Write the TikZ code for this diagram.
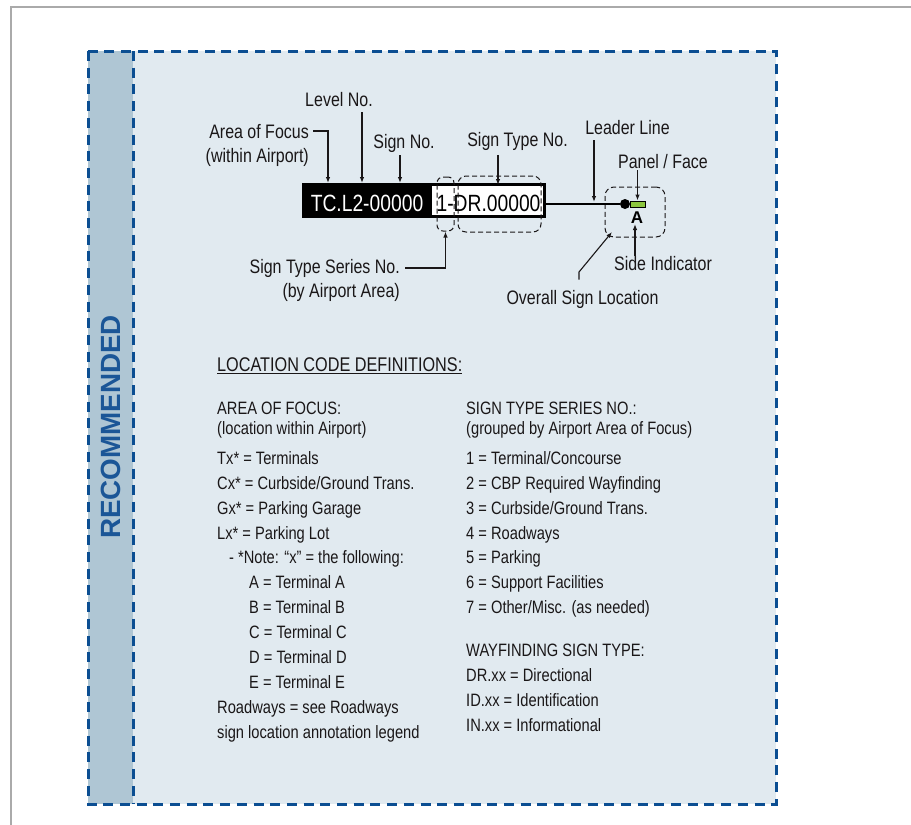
\documentclass[tikz,border=0pt]{standalone}
\usepackage{fontspec}
\setmainfont{Liberation Sans}[FakeStretch=0.82]
\newfontfamily\widesans{Liberation Sans}
\usepackage{xcolor}
\usepackage{tikz}
\usetikzlibrary{positioning,arrows.meta}
\definecolor{panelbg}{HTML}{E1EAF0}
\definecolor{stripbg}{HTML}{AFC6D4}
\definecolor{dashblue}{HTML}{0B4E92}
\definecolor{recblue}{HTML}{1B5697}
\definecolor{inkgray}{HTML}{1A1718}
\definecolor{framegray}{HTML}{AAAAAA}
\definecolor{panelgreen}{HTML}{8CC63F}

\begin{document}
\begin{tikzpicture}[
  x=1pt,y=-1pt,
  lbl/.style={inner sep=0pt,font=\fontsize{19.5}{23}\selectfont,text=inkgray},
  txt/.style={inner sep=0pt,font=\fontsize{17.9}{21}\selectfont,text=inkgray,anchor=base west},
  code/.style={inner sep=0pt,font=\fontsize{23.5}{26}\selectfont,anchor=base},
  arr/.style={-{Latex[length=6pt,width=4.5pt]},line width=1.1pt,inkgray},
  bluedash/.style={dashblue,line width=3pt,dash pattern=on 10pt off 6.7pt},
  ring/.style={draw=inkgray,line width=1pt,dash pattern=on 5pt off 3pt,inner sep=0pt},
]
\useasboundingbox (0,0) rectangle (911,825);
\fill[white] (0,0) rectangle (911,825);
\draw[framegray,line width=2.5pt] (11,825) -- (11,7) -- (911,7);

% panel and side strip
\fill[panelbg] (88,51) rectangle (776,804);
\fill[stripbg] (88,51) rectangle (133,804);
\draw[bluedash] (88,51) rectangle (776,804);
\draw[bluedash] (133,51) -- (133,804);
\node[rotate=90,inner sep=0pt,text=recblue,font=\widesans\bfseries\fontsize{27.8}{30}\selectfont] (rec) at (111,427) {RECOMMENDED};

% the sign code
\node[fill=black,minimum width=244pt,minimum height=35pt,inner sep=0pt,anchor=north west] (signbar) at (302,183) {};
\node[fill=white,minimum width=111pt,minimum height=29pt,inner sep=0pt,anchor=north west] (signwhite) at (432,186) {};
\node[code,text=white] (loccode) at (367,211) {TC.L2-00000};
\node[code,text=black] (typcode) at (488.5,211) {1-DR.00000};
\node[ring,rounded corners=6pt,minimum width=17pt,minimum height=54pt] (serbox) at (445.5,204) {};
\node[ring,rounded corners=8pt,minimum width=83pt,minimum height=56pt] (typbox) at (499.5,204) {};

% leader line and sign location
\node[ring,rounded corners=9pt,minimum width=60pt,minimum height=50pt] (locbox) at (635,212) {};
\node[circle,fill=black,minimum size=10pt,inner sep=0pt] (dot) at (625,204) {};
\draw[black,line width=2.5pt] (signbar.east |- dot) -- (dot);
\node[fill=panelgreen,draw=black,line width=1pt,minimum width=15pt,minimum height=6pt,inner sep=0pt] (panel) at (637.5,204) {};
\node[inner sep=0pt,font=\widesans\bfseries\fontsize{17}{19}\selectfont] (side) at (637,217.5) {A};

% labels
\node[lbl,anchor=base] (level) at (339,106.7) {Level No.};
\node[lbl,anchor=base east] (aof) at (309,138) {Area of Focus};
\node[lbl,anchor=base east] (aofsub) at (309,162) {(within Airport)};
\node[lbl,anchor=base] (signno) at (404,148) {Sign No.};
\node[lbl,anchor=base] (typno) at (517.5,146.7) {Sign Type No.};
\node[lbl,anchor=base] (leader) at (627.5,134) {Leader Line};
\node[lbl,anchor=base] (face) at (663,168) {Panel / Face};
\node[lbl,anchor=base] (sideind) at (663,270) {Side Indicator};
\node[lbl,anchor=base] (overall) at (582.5,304) {Overall Sign Location};
\node[lbl,anchor=base east] (series) at (400,273) {Sign Type Series No.};
\node[lbl,anchor=base east] (seriessub) at (400,297) {(by Airport Area)};

\coordinate (leveltip) at (362,183);
\coordinate (aoftip) at (328,183);
\coordinate (signtip) at (400,183);
\coordinate (typtip) at (498,185);
\coordinate (leadtip) at (594,202);
\coordinate (facetip) at (637.5,200.5);
\coordinate (sidetip) at (635,224);
\coordinate (overbend) at (579,272);
\coordinate (overtip) at (612,232);

\draw[arr] ([yshift=-5pt]level.south -| leveltip) -- (leveltip);
\draw[arr] ([xshift=4pt]aof.east) -| (aoftip);
\draw[arr] ([yshift=-3pt]signno.south -| signtip) -- (signtip);
\draw[arr] ([yshift=-4pt]typno.south -| typtip) -- (typtip);
\draw[arr] ([yshift=-6pt]leader.south -| leadtip) -- (leadtip);
\draw[arr] ([yshift=-2pt]face.south -| facetip) -- (facetip);
\draw[arr] (sideind.north -| sidetip) -- (sidetip);
\draw[arr] ([yshift=10pt]overall.north -| overbend) -- (overbend) -- (overtip);
\draw[arr] ([xshift=5pt]series.east) -| (serbox.south);

% location code definitions
\node[lbl,anchor=base west,font=\fontsize{19.8}{23}\selectfont] (defs) at (217,371) {LOCATION CODE DEFINITIONS:};
\draw[inkgray,line width=1pt] ([yshift=-2pt]defs.south west) -- ([yshift=-2pt]defs.south east);

\node[txt] (aofhead) at (217,414) {AREA OF FOCUS:};
\node[txt] (aofnote) at (217,434) {(location within Airport)};
\node[txt] (tx) at (217,464) {Tx* = Terminals};
\node[txt] (cx) at (217,489) {Cx* = Curbside/Ground Trans.};
\node[txt] (gx) at (217,514) {Gx* = Parking Garage};
\node[txt] (lx) at (217,539) {Lx* = Parking Lot};
\node[txt] (xnote) at (229,563.5) {- *Note: “x” = the following:};
\foreach \l [count=\i from 0] in {A,B,C,D,E}
  \node[txt] (term\l) at (249,588.5+25*\i) {\l{} = Terminal \l};
\node[txt] (road) at (217,713.5) {Roadways = see Roadways};
\node[txt] (roadsub) at (217,738.5) {sign location annotation legend};

\node[txt] (serhead) at (466,414) {SIGN TYPE SERIES NO.:};
\node[txt] (sernote) at (466,434) {(grouped by Airport Area of Focus)};
\node[txt] (ser1) at (466,464) {1 = Terminal/Concourse};
\node[txt] (ser2) at (466,489) {2 = CBP Required Wayfinding};
\node[txt] (ser3) at (466,514) {3 = Curbside/Ground Trans.};
\node[txt] (ser4) at (466,539) {4 = Roadways};
\node[txt] (ser5) at (466,563.5) {5 = Parking};
\node[txt] (ser6) at (466,588.5) {6 = Support Facilities};
\node[txt] (ser7) at (466,613.5) {7 = Other/Misc. (as needed)};

\node[txt] (wayhead) at (466,656) {WAYFINDING SIGN TYPE:};
\node[txt] (dr) at (466,681) {DR.xx = Directional};
\node[txt] (id) at (466,706) {ID.xx = Identification};
\node[txt] (in) at (466,731) {IN.xx = Informational};
\end{tikzpicture}
\end{document}
